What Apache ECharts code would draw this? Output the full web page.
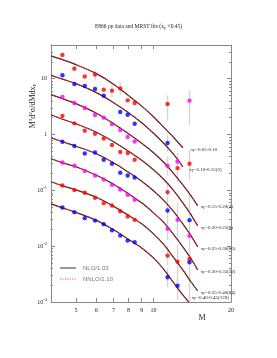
<!DOCTYPE html>
<html><head><meta charset="utf-8">
<script src="https://cdn.jsdelivr.net/npm/echarts@6/dist/echarts.min.js"></script>
<style>html,body{margin:0;padding:0;background:#fff}#c{width:277px;height:358px}</style>
</head><body><div id="c"></div>
<script>
// ---- data (M in GeV, M^3 d2sigma/dMdxF) ----
const binLabels = ['0.05-0.10','0.10-0.15(2)','0.15-0.20(4)','0.20-0.25(8)','0.25-0.30(16)','0.30-0.35(32)','0.35-0.40(64)','0.40-0.45(128)'];
const pointColors = ['#ff0000','#0000ff','#ff00ff','#ff0000','#0000ff','#ff00ff','#ff0000','#0000ff'];

const data1 = [[4.43,26.6],[4.93,15.1],[5.41,10.9],[5.93,11.8],[6.41,6.35],[6.9,6.09],[7.43,6.70],[7.94,4.08],[8.45,3.66],[11.34,3.52]];
const data2 = [[4.43,11.46],[4.93,8.03],[5.41,7.40],[5.93,6.53],[6.41,4.96],[7.43,2.53],[7.94,2.26],[8.45,1.56],[11.34,0.703]];
const data3 = [[4.43,4.70],[4.93,3.66],[5.41,2.98],[5.93,2.23],[6.41,2.00],[6.9,1.54],[7.43,1.20],[7.94,0.90],[8.45,0.750],[11.34,0.275],[12.4,0.329],[13.8,4.03]];
const data4 = [[4.43,2.14],[4.93,1.58],[5.41,1.17],[5.93,1.03],[6.41,0.849],[6.9,0.647],[7.43,0.484],[7.94,0.465],[8.45,0.352],[11.34,0.0929],[12.4,0.250],[13.8,0.299]];
const data5 = [[4.43,0.741],[4.93,0.621],[5.41,0.457],[5.93,0.476],[6.41,0.352],[6.9,0.299],[7.43,0.206],[7.94,0.184],[8.45,0.170],[11.34,0.0434],[13.8,0.0292]];
const data6 = [[4.43,0.315],[4.93,0.275],[5.41,0.222],[5.93,0.184],[6.41,0.156],[6.9,0.1256],[7.43,0.1033],[7.94,0.0831],[8.45,0.0676],[11.34,0.0204],[12.4,0.0296],[13.8,0.0153]];
const data7 = [[4.43,0.122],[4.93,0.1008],[5.41,0.0902],[5.93,0.0734],[6.41,0.0589],[6.9,0.0534],[7.43,0.0423],[7.94,0.0339],[8.45,0.0296],[11.34,0.00677],[12.4,0.00528],[13.8,0.00591]];
const data8 = [[4.43,0.0491],[4.93,0.0406],[5.41,0.0317],[5.93,0.0287],[6.41,0.0248],[6.9,0.0193],[7.43,0.01546],[7.94,0.01258],[8.45,0.01177],[11.34,0.00277],[12.4,0.00196],[13.8,0.00515]];

// [M, low, high]
const errorBars = [[4.93,13.63,16.76],[5.93,9.21,14.21],[6.9,4.66,8.13],[7.43,5.16,8.48],[11.34,1.765,5.06],[13.8,1.496,6.22],
  [11.34,0.4905,0.99],[11.34,0.182,0.399],[12.4,0.1421,0.4707],[13.8,0.1543,0.5328],[11.34,0.0648,0.1363],[11.34,0.0296,0.0648],
  [11.34,0.01295,0.0321],[11.34,0.00461,0.0101],[11.34,0.00186,0.00407],[12.4,0.01295,0.0597],[12.4,0.002695,0.01053],
  [12.4,0.001086,0.00375],[13.8,0.00857,0.0831],[13.8,0.00522,0.03635],[13.8,0.00164,0.01295],[13.8,0.001,0.01053]];

// fitted curves (NLO/1.03, NNLO/1.10 overlaid)
const fit1 = [[4,25.54],[4.43,21.92],[5,17.83],[6,12.29],[7,7.965],[8,4.96],[9,3.212],[10,2.081],[11,1.322],[12,0.8743],[13,0.5785]];
const fit2 = [[4,11.46],[4.43,9.795],[5,8.134],[6,5.609],[7,3.711],[8,2.455],[9,1.625],[10,1.053],[11,0.6825],[12,0.4334],[13,0.2639]];
const fit3 = [[4,5.164],[4.43,4.378],[5,3.561],[6,2.405],[7,1.557],[8,1.032],[9,0.6966],[10,0.4707],[11,0.3113],[12,0.1977],[13,0.1256],[14,0.0797],[14.85,0.0527]];
const fit4 = [[4,2.261],[4.43,1.877],[5,1.557],[6,1.097],[7,0.741],[8,0.5007],[9,0.3452],[10,0.2332],[11,0.1543],[12,0.0979],[13,0.0597],[14,0.03635],[14.85,0.02308]];
const fit5 = [[4,0.8743],[4.43,0.741],[5,0.6154],[6,0.4517],[7,0.3113],[8,0.2103],[9,0.145],[10,0.0979],[11,0.0648],[12,0.0412],[13,0.0251],[14,0.01527],[14.85,0.0097]];
const fit6 = [[4,0.3673],[4.43,0.3113],[5,0.2639],[6,0.1858],[7,0.1281],[8,0.0866],[9,0.0597],[10,0.0395],[11,0.0261],[12,0.01591],[13,0.0097],[14,0.00591],[14.85,0.00375]];
const fit7 = [[4,0.1421],[4.43,0.1204],[5,0.1021],[6,0.0749],[7,0.0516],[8,0.0356],[9,0.0251],[10,0.01659],[11,0.01053],[12,0.00615],[13,0.00375],[14,0.00228],[14.85,0.001575]];
const fit8 = [[4,0.0573],[4.43,0.0486],[5,0.0403],[6,0.029],[7,0.0196],[8,0.0132],[9,0.0093],[10,0.00615],[11,0.00375],[12,0.00219],[13,0.001335],[13.7,0.001]];

const xTickValues = [5,6,7,8,9,10,20];
const yMajorTicks = [0.001,0.01,0.1,1,10];
const yMinorTicks = [0.002,0.003,0.004,0.005,0.006,0.007,0.008,0.009,0.02,0.03,0.04,0.05,0.06,0.07,0.08,0.09,
  0.2,0.3,0.4,0.5,0.6,0.7,0.8,0.9,2,3,4,5,6,7,8,9,20,30,40];

const allData = [data1,data2,data3,data4,data5,data6,data7,data8];
const allFits = [fit1,fit2,fit3,fit4,fit5,fit6,fit7,fit8];
// ---- styling ----
const SERIF = '"Liberation Serif","DejaVu Serif",serif';
const labelOffsets = [[5,2],[3.5,3],[0,1],[0,2],[0,2],[0,2],[0,2],[0,-4]];
const frameColor = '#888';

const chart = echarts.init(document.getElementById('c'), null, {renderer:'canvas'});

function yFmt(v){
  if (Math.abs(v-10)<1e-9) return '{b|10}';
  if (Math.abs(v-1)<1e-9) return '{b|1}';
  return '{b|10}{s|' + Math.round(Math.log10(v)) + '}';
}
const yRich = {b:{fontSize:6,fontFamily:SERIF,color:'#222'}, s:{fontSize:4.5,fontFamily:SERIF,color:'#222',verticalAlign:'bottom',padding:[0,0,5,0]}};

function logX(pos, opts){
  return Object.assign({type:'log', logBase:10, min:4, max:20, position:pos, gridIndex:0,
    axisLine:{show:true,onZero:false,lineStyle:{color:frameColor,width:1}},
    axisTick:{show:true,inside:true,length:4,customValues:xTickValues,lineStyle:{color:frameColor}},
    axisLabel:{show:false}, splitLine:{show:false}, minorTick:{show:false}}, opts||{});
}
function logY(pos, ticks, len, showLabel, showLine){
  return {type:'log', logBase:10, min:0.001, max:40, position:pos, gridIndex:0,
    axisLine:{show:showLine,onZero:false,lineStyle:{color:frameColor,width:1}},
    axisTick:{show:true,inside:true,length:len,customValues:ticks,lineStyle:{color:frameColor}},
    axisLabel:showLabel?{show:true,customValues:yMajorTicks,formatter:yFmt,rich:yRich,margin:4}:{show:false},
    splitLine:{show:false}, minorTick:{show:false}};
}

// error bars as a broken polyline (gap between bars)
const errLineData = [];
errorBars.forEach(function(e){ errLineData.push([e[0], e[1]], [e[0], e[2]], '-'); });

const series = [];
series.push({type:'line', name:'err', data: errLineData, connectNulls:false, showSymbol:false, symbol:'none',
  silent:true, z:1, lineStyle:{color:'#d6d6d6', width:1.4}});
allFits.forEach(function(f,i){
  series.push({type:'line', name:'NLO/1.03', data:f, smooth:0.3, showSymbol:false, symbol:'none', z:2,
    lineStyle:{color:'#3a1a1a', width:1.2}, silent:true,
    endLabel:{show:true, distance:3, offset:labelOffsets[i], formatter:'{a|x}{f|F}{a|=' + binLabels[i] + '}',
      rich:{a:{fontSize:5,fontFamily:SERIF,color:'#222'}, f:{fontSize:3.5,fontFamily:SERIF,color:'#222',verticalAlign:'top',padding:[3,0,0,0]}}}});
  series.push({type:'line', name:'NNLO/1.10', data:f, smooth:0.3, showSymbol:false, symbol:'none', z:3,
    lineStyle:{color:'#ff3030', width:1, type:[1.2,1.2]}, silent:true});
});
allData.forEach(function(d,i){
  series.push({type:'scatter', name:binLabels[i], data:d, symbol:'circle', symbolSize:4.4, z:5,
    itemStyle:{color:pointColors[i]}});
});

chart.setOption({
  animation:false,
  backgroundColor:'#fff',
  grid:{left:51, top:45, width:180, height:257, containLabel:false},
  xAxis:[
    logX('bottom', {axisLabel:{show:true, customValues:xTickValues, fontSize:6, fontFamily:SERIF, color:'#222', margin:5}}),
    logX('top')
  ],
  yAxis:[
    logY('left', yMajorTicks, 4, true, true),
    logY('left', yMinorTicks, 2, false, false),
    logY('right', yMajorTicks, 4, false, true),
    logY('right', yMinorTicks, 2, false, false)
  ],
  series: series,
  graphic:[
    {type:'text', left:'center', top:24, style:{text:'E866 pp data and MRST fits ({a|x}{f|F}{a| <0.45)}', rich:{a:{fontSize:5.5,fontFamily:SERIF,fill:'#222'},f:{fontSize:4,fontFamily:SERIF,fill:'#222',verticalAlign:'top',padding:[3,0,0,0]}}, fontSize:5.5, fontFamily:SERIF, fill:'#222'}},
    {type:'text', x:33, y:106, rotation:Math.PI/2, style:{text:'M{s|3}d{s|2}σ/dMdx{u|F}', align:'center', verticalAlign:'middle', fontSize:8, fontFamily:SERIF, fill:'#222',
      rich:{s:{fontSize:5,fontFamily:SERIF,fill:'#222',verticalAlign:'bottom',padding:[0,0,5,0]}, u:{fontSize:5,fontFamily:SERIF,fill:'#222',verticalAlign:'top',padding:[4,0,0,0]}}}},
    {type:'text', x:202, y:318, style:{text:'M', align:'center', verticalAlign:'middle', fontSize:8, fontFamily:SERIF, fill:'#222'}},
    {type:'line', shape:{x1:60,y1:268,x2:76,y2:268}, style:{stroke:'#333',lineWidth:1}},
    {type:'text', x:83, y:268, style:{text:'NLO/1.03', verticalAlign:'middle', fontSize:6, fontFamily:'"Liberation Sans",sans-serif', fill:'#777'}},
    {type:'line', shape:{x1:60,y1:279,x2:76,y2:279}, style:{stroke:'#ff5050',lineWidth:1,lineDash:[1.2,1.2]}},
    {type:'text', x:83, y:279, style:{text:'NNLO/1.10', verticalAlign:'middle', fontSize:6, fontFamily:'"Liberation Sans",sans-serif', fill:'#777'}}
  ]
});
</script>
</body></html>
